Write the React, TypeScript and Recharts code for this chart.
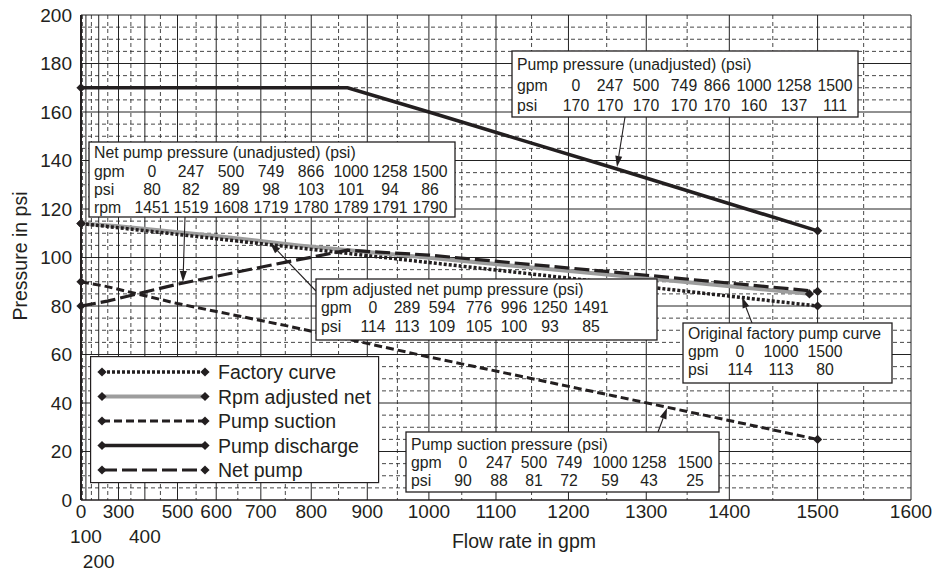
import React from 'react';
import { LineChart, Line, XAxis, YAxis, CartesianGrid, Legend } from 'recharts';

const FONT = '"Liberation Sans", Arial, Helvetica, sans-serif';
const INK = '#231f20';

// flow axis is N^1.85 hydraulic graph paper
const EXP = 1.85;
const n185 = (gpm: number) => Math.pow(gpm, EXP);

const GPM_TICKS = [0, 100, 200, 300, 400, 500, 600, 700, 800, 900, 1000, 1100, 1200, 1300, 1400, 1500, 1600];
const GPM_MINOR = [50, 150, 250, 350, 450, 550, 650, 750, 850, 950, 1050, 1150, 1250, 1350, 1450, 1550];
const PSI_TICKS = [0, 20, 40, 60, 80, 100, 120, 140, 160, 180, 200];
const PSI_MINOR = [5, 10, 15, 25, 30, 35, 45, 50, 55, 65, 70, 75, 85, 90, 95, 105, 110, 115, 125, 130, 135, 145, 150, 155, 165, 170, 175, 185, 190, 195];

const DISCHARGE_GPM = [0, 247, 500, 749, 866, 1000, 1258, 1500];
const DISCHARGE_PSI = [170, 170, 170, 170, 170, 160, 137, 111];

const NET_GPM = [0, 247, 500, 749, 866, 1000, 1258, 1500];
const NET_PSI = [80, 82, 89, 98, 103, 101, 94, 86];
const NET_RPM = [1451, 1519, 1608, 1719, 1780, 1789, 1791, 1790];

const RPM_ADJ_GPM = [0, 289, 594, 776, 996, 1250, 1491];
const RPM_ADJ_PSI = [114, 113, 109, 105, 100, 93, 85];

const SUCTION_GPM = [0, 247, 500, 749, 1000, 1258, 1500];
const SUCTION_PSI = [90, 88, 81, 72, 59, 43, 25];

const FACTORY_GPM = [0, 1000, 1500];
const FACTORY_PSI = [114, 113, 80];
// the plotted factory curve is drawn straight between its end points
const FACTORY_LINE_GPM = [0, 1500];
const FACTORY_LINE_PSI = [114, 80];

const pts = (g: number[], p: number[]) => g.map((gpm, i) => ({ gpm, psi: p[i] }));

const SERIES = [
  { name: 'Factory curve', data: pts(FACTORY_LINE_GPM, FACTORY_LINE_PSI), stroke: INK, width: 3.5, dash: '3 2' },
  { name: 'Rpm adjusted net', data: pts(RPM_ADJ_GPM, RPM_ADJ_PSI), stroke: '#9d9d9d', width: 4, dash: undefined },
  { name: 'Pump suction', data: pts(SUCTION_GPM, SUCTION_PSI), stroke: INK, width: 3, dash: '8 4' },
  { name: 'Pump discharge', data: pts(DISCHARGE_GPM, DISCHARGE_PSI), stroke: INK, width: 3.5, dash: undefined },
  { name: 'Net pump', data: pts(NET_GPM, NET_PSI), stroke: INK, width: 3.2, dash: '15 5' },
];
const DRAW_ORDER = [1, 0, 2, 3, 4];

const STAGGER: Record<number, number> = { 100: 1, 200: 2, 400: 1 };

// column centres are page pixels; values are centred under them
const NOTES = [
  {
    title: 'Pump pressure (unadjusted) (psi)', box: [512, 51, 346, 66], titleY: 70,
    cols: [576, 610, 646, 684, 717, 754, 794, 835],
    rows: [
      { label: 'gpm', values: DISCHARGE_GPM, y: 91 },
      { label: 'psi', values: DISCHARGE_PSI, y: 111 },
    ],
    arrow: [625, 117, 617, 167],
  },
  {
    title: 'Net pump pressure (unadjusted) (psi)', box: [89, 142, 366, 75], titleY: 158,
    cols: [152, 191, 231, 271, 311, 351, 390, 430],
    rows: [
      { label: 'gpm', values: NET_GPM, y: 177 },
      { label: 'psi', values: NET_PSI, y: 195 },
      { label: 'rpm', values: NET_RPM, y: 213 },
    ],
    arrow: [185, 217, 183, 282],
  },
  {
    title: 'rpm adjusted net pump pressure (psi)', box: [316, 279, 341, 61], titleY: 295,
    cols: [373, 407, 442, 479, 514, 550, 591],
    rows: [
      { label: 'gpm', values: RPM_ADJ_GPM, y: 313 },
      { label: 'psi', values: RPM_ADJ_PSI, y: 332 },
    ],
    arrow: [316, 291, 270, 243],
  },
  {
    title: 'Original factory pump curve', box: [683, 323, 209, 60], titleY: 339,
    cols: [740, 781, 825],
    rows: [
      { label: 'gpm', values: FACTORY_GPM, y: 357 },
      { label: 'psi', values: FACTORY_PSI, y: 375 },
    ],
    arrow: [752, 323, 742, 297],
  },
  {
    title: 'Pump suction pressure (psi)', box: [406, 432, 313, 60], titleY: 450,
    cols: [463, 499, 534, 569, 610, 649, 695],
    rows: [
      { label: 'gpm', values: SUCTION_GPM, y: 468 },
      { label: 'psi', values: SUCTION_PSI, y: 486 },
    ],
    arrow: [658, 432, 667, 408],
  },
];

const diamond = (cx: number, cy: number, r = 4.6) =>
  `${cx},${cy - r} ${cx + r},${cy} ${cx},${cy + r} ${cx - r},${cy}`;

const endDot = (n: number) => (props: any) => {
  const { cx, cy, index } = props;
  if (index !== 0 && index !== n - 1) return <g key={`dot-${index}`} />;
  return <polygon key={`dot-${index}`} points={diamond(cx, cy)} fill={INK} />;
};

function FlowTick({ x, y, payload }: any) {
  const gpm = Math.round(Math.pow(payload.value, 1 / EXP));
  const row = STAGGER[gpm] ?? 0;
  return (
    <text x={x} y={y + 18 + row * 25} textAnchor="middle" fontSize={19} fill={INK}>
      {gpm}
    </text>
  );
}

function LegendBox() {
  return (
    <svg width={290} height={128} style={{ display: 'block' }}>
      <rect x={0.6} y={0.6} width={288} height={126} fill="#fff" stroke={INK} strokeWidth={1.2} />
      {SERIES.map((s, i) => {
        const y = 16 + i * 24.5;
        return (
          <g key={s.name}>
            <line x1={12} x2={115} y1={y} y2={y} stroke={s.stroke} strokeWidth={s.width} strokeDasharray={s.dash} />
            <polygon points={diamond(12, y)} fill={INK} />
            <polygon points={diamond(115, y)} fill={INK} />
            <text x={128} y={y + 7} fontSize={19.5} fill={INK}>{s.name}</text>
          </g>
        );
      })}
    </svg>
  );
}

function Arrow({ a }: { a: number[] }) {
  const [x1, y1, x2, y2] = a;
  const ang = Math.atan2(y2 - y1, x2 - x1);
  const L = 11;
  const W = 3.5;
  const bx = x2 - L * Math.cos(ang);
  const by = y2 - L * Math.sin(ang);
  const px = -Math.sin(ang) * W;
  const py = Math.cos(ang) * W;
  return (
    <g>
      <line x1={x1} y1={y1} x2={bx} y2={by} stroke={INK} strokeWidth={1.1} />
      <polygon points={`${x2},${y2} ${bx + px},${by + py} ${bx - px},${by - py}`} fill={INK} />
    </g>
  );
}

function Notes() {
  return (
    <svg width={933} height={571} style={{ position: 'absolute', left: 0, top: 0, pointerEvents: 'none' }}>
      {NOTES.map((n) => {
        const [bx, by, bw, bh] = n.box;
        return (
          <g key={n.title} fontSize={15.8} fill={INK}>
            <Arrow a={n.arrow} />
            <rect x={bx} y={by} width={bw} height={bh} fill="#fff" stroke={INK} strokeWidth={1.3} />
            <text x={bx + 5} y={n.titleY}>{n.title}</text>
            {n.rows.map((r) => (
              <g key={r.label}>
                <text x={bx + 5} y={r.y}>{r.label}</text>
                {r.values.map((v, i) => (
                  <text key={i} x={n.cols[i]} y={r.y} textAnchor="middle">{v}</text>
                ))}
              </g>
            ))}
          </g>
        );
      })}
    </svg>
  );
}

export default function App() {
  return (
    <div style={{ position: 'absolute', left: 0, top: 0, width: 933, height: 571, background: '#fff', fontFamily: FONT }}>
      <LineChart width={933} height={571} margin={{ top: 15, right: 22, bottom: 0, left: 0 }}>
        <CartesianGrid
          stroke="#333"
          strokeWidth={0.9}
          strokeDasharray="4 3"
          horizontalValues={PSI_MINOR}
          verticalValues={GPM_MINOR.map(n185)}
        />
        <CartesianGrid
          stroke="#222"
          strokeWidth={1}
          horizontalValues={PSI_TICKS.slice(1)}
          verticalValues={GPM_TICKS.slice(1).map(n185)}
        />
        <XAxis
          type="number"
          dataKey={(d: any) => n185(d.gpm)}
          domain={[0, n185(1600)]}
          ticks={GPM_TICKS.map(n185)}
          interval={0}
          tick={<FlowTick />}
          tickLine={false}
          tickSize={0}
          tickMargin={0}
          height={71}
          axisLine={{ stroke: INK, strokeWidth: 1.5 }}
          label={() => (
            <text x={524} y={548} textAnchor="middle" fontSize={19.5} fill={INK}>Flow rate in gpm</text>
          )}
        />
        <YAxis
          type="number"
          domain={[0, 200]}
          ticks={PSI_TICKS}
          interval={0}
          width={81}
          tickLine={false}
          tickSize={0}
          tickMargin={9}
          tick={{ fontSize: 19, fill: INK }}
          axisLine={{ stroke: INK, strokeWidth: 2 }}
          label={() => (
            <text x={20} y={256} transform="rotate(-90 20 256)" textAnchor="middle" dominantBaseline="central" fontSize={19.5} fill={INK}>
              Pressure in psi
            </text>
          )}
        />
        {DRAW_ORDER.map((i) => {
          const s = SERIES[i];
          return (
            <Line
              key={s.name}
              name={s.name}
              data={s.data}
              dataKey="psi"
              type="linear"
              stroke={s.stroke}
              strokeWidth={s.width}
              strokeDasharray={s.dash}
              dot={endDot(s.data.length)}
              activeDot={false}
              isAnimationActive={false}
            />
          );
        })}
        <Legend
          layout="horizontal"
          verticalAlign="middle"
          align="center"
          wrapperStyle={{ left: 90, top: 356, width: 290, height: 128 }}
          content={() => <LegendBox />}
        />
      </LineChart>
      <Notes />
    </div>
  );
}
